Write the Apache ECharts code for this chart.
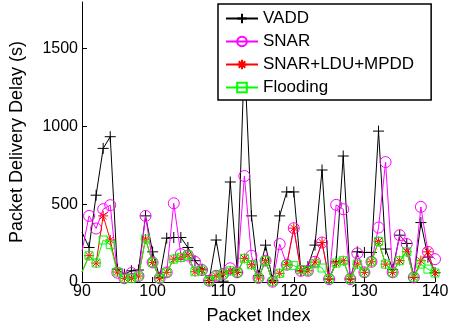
<!DOCTYPE html>
<html>
<head>
<meta charset="utf-8">
<script src="https://cdn.jsdelivr.net/npm/echarts@6/dist/echarts.min.js"></script>
<style>
html,body{margin:0;padding:0;background:#fff;}
#chart{width:455px;height:330px;}
</style>
</head>
<body>
<div id="chart"></div>
<script>
// Packet indices 90..140
const packetIndex = [];
for (let i = 90; i <= 140; i++) packetIndex.push(i);

const seriesNames = ['VADD', 'SNAR', 'SNAR+LDU+MPDD', 'Flooding'];

const vadd = [320, 222, 558, 859, 934, 83, 50, 72, 77, 425,
  194, 30, 282, 286, 286, 222, 137, 83, 10, 270,
  5, 643, 62, 1450, 425, 40, 237, 10, 425, 579,
  579, 72, 100, 237, 720, 19, 130, 810, 19, 194,
  190, 190, 970, 212, 80, 301, 248, 30, 382, 160,
  60];

const snar = [200, 425, 344, 468, 494, 60, 24, 58, 38, 425,
  126, 24, 62, 506, 179, 170, 130, 77, 8, 40,
  51, 88, 62, 681, 169, 26, 137, 2, 244, 111,
  346, 72, 72, 130, 254, 19, 496, 468, 19, 184,
  62, 130, 350, 771, 62, 301, 244, 30, 483, 194,
  147];

const snarLdu = [64, 169, 122, 425, 270, 64, 24, 24, 38, 276,
  126, 24, 62, 147, 158, 173, 66, 77, 8, 40,
  51, 72, 62, 152, 111, 26, 137, 2, 56, 111,
  346, 72, 72, 128, 254, 19, 122, 137, 19, 115,
  62, 130, 261, 115, 62, 137, 194, 30, 137, 194,
  58];

const flooding = [64, 169, 122, 270, 240, 64, 24, 24, 38, 276,
  126, 24, 62, 147, 158, 173, 66, 77, 8, 40,
  51, 72, 62, 152, 111, 26, 137, 2, 56, 111,
  105, 79, 72, 117, 90, 19, 122, 137, 19, 115,
  62, 130, 261, 115, 62, 137, 194, 30, 115, 83,
  58];

const yTicks = [0, 500, 1000, 1500];

const FONT = "'Liberation Sans', Arial, Helvetica, sans-serif";

function toData(arr) {
  return arr.map((v, i) => {
    const item = { value: [packetIndex[i], v] };
    if (i === 0) item.symbol = 'none';
    return item;
  });
}

const PLUS = 'path://M5,0L5,10M0,5L10,5';
const STAR = 'path://M5,0L5,10M0,5L10,5M1.6,1.6L8.4,8.4M1.6,8.4L8.4,1.6';

const colors = ['#000000', '#ff00ff', '#ff0000', '#00ff00'];
const symbols = [PLUS, 'circle', STAR, 'rect'];
const sizes = [11, 11, 10, 8];
const values = [vadd, snar, snarLdu, flooding];

const series = seriesNames.map((name, k) => ({
  name: name,
  type: 'line',
  data: toData(values[k]),
  symbol: symbols[k],
  symbolSize: sizes[k],
  showAllSymbol: true,
  clip: true,
  animation: false,
  lineStyle: { color: colors[k], width: 1 },
  itemStyle: { color: 'none', borderColor: colors[k], borderWidth: 1 },
  emphasis: { disabled: true },
  z: 2 + k
}));

const chart = echarts.init(document.getElementById('chart'), null, { renderer: 'canvas' });
chart.setOption({
  animation: false,
  backgroundColor: '#fff',
  grid: { left: 82, right: 20, top: 2, bottom: 47 },
  xAxis: {
    type: 'value',
    min: 90, max: 140, interval: 10,
    name: 'Packet Index',
    nameLocation: 'middle',
    nameGap: 25,
    nameTextStyle: { fontFamily: FONT, fontSize: 18, color: '#000' },
    axisLine: { show: true, lineStyle: { color: '#000', width: 1 } },
    axisTick: { show: true, inside: true, length: 5, lineStyle: { color: '#000' } },
    axisLabel: { fontFamily: FONT, fontSize: 16, color: '#000', margin: 2, formatter: v => String(v) },
    splitLine: { show: false }
  },
  yAxis: {
    type: 'value',
    min: 0, max: 1800, interval: 500,
    name: 'Packet Delivery Delay (s)',
    nameLocation: 'middle',
    nameGap: 56,
    nameTextStyle: { fontFamily: FONT, fontSize: 18, color: '#000' },
    axisLine: { show: true, lineStyle: { color: '#000', width: 1 } },
    axisTick: { show: true, inside: true, length: 5, lineStyle: { color: '#000' }, customValues: yTicks },
    axisLabel: { fontFamily: FONT, fontSize: 16, color: '#000', margin: 4, customValues: yTicks, formatter: v => String(v) },
    splitLine: { show: false }
  },
  legend: {
    orient: 'vertical',
    left: 218, top: 4,
    data: seriesNames,
    itemWidth: 32, itemHeight: 12,
    itemGap: 6,
    padding: [6, 17, 4, 7],
    borderColor: '#000', borderWidth: 1.5, borderRadius: 0,
    backgroundColor: '#fff',
    textStyle: { fontFamily: FONT, fontSize: 17, color: '#000', lineHeight: 17 },
    itemTextGap: 5,
    selectedMode: false,
    z: 20
  },
  series: series
});
</script>
</body>
</html>
